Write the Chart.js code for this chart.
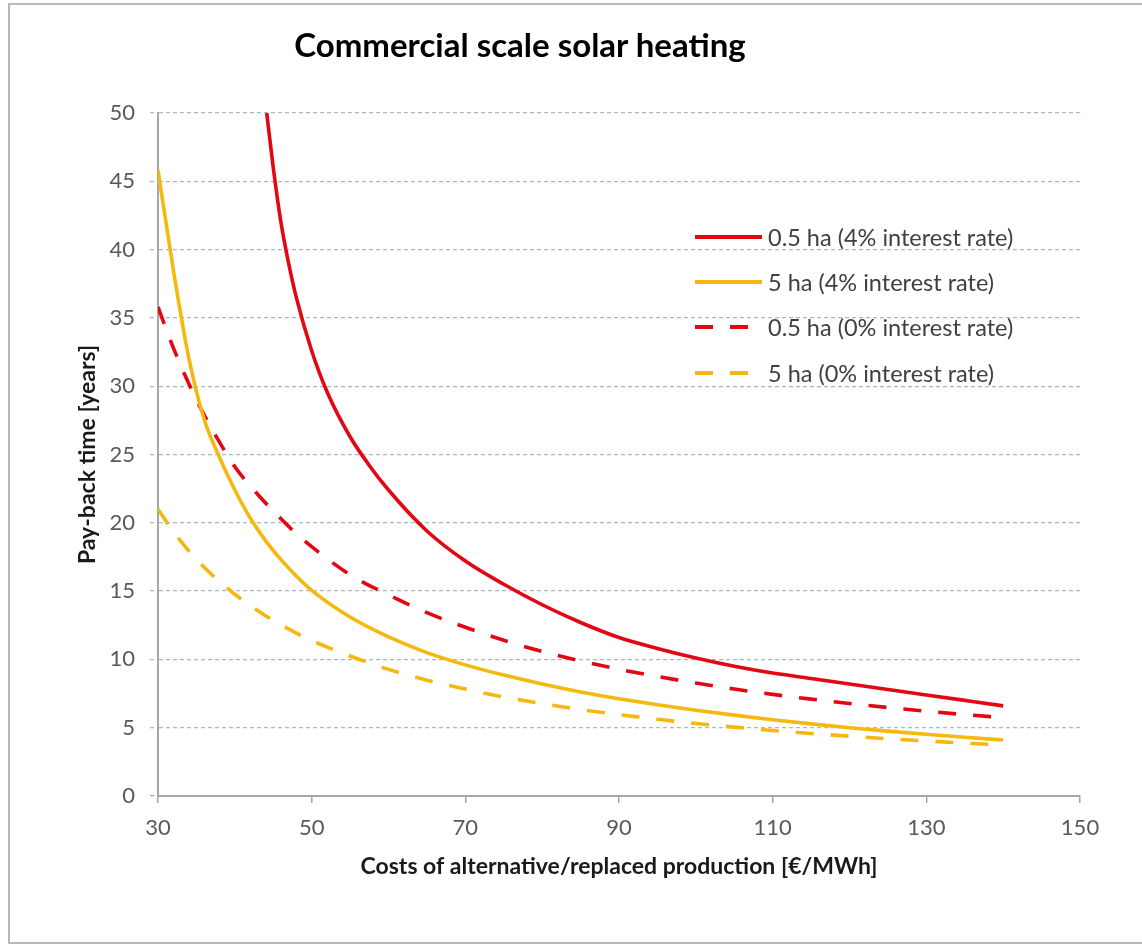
<!DOCTYPE html>
<html><head><meta charset="utf-8">
<script src="https://cdn.jsdelivr.net/npm/chart.js@4.4.1/dist/chart.umd.min.js"></script>
<style>
html,body{margin:0;padding:0;background:#fff;}
#wrap{position:relative;width:1142px;height:947px;overflow:hidden;font-family:Lato,sans-serif;}
#frame{position:absolute;left:8px;top:3px;width:1150px;height:941px;border:2px solid #b8b8b8;box-sizing:border-box;}
#title{position:absolute;left:0;width:1040px;top:24px;text-align:center;font-weight:bold;font-size:33px;line-height:40px;color:#000;}
.lg{position:absolute;left:695px;height:30px;display:flex;align-items:center;font-size:23.5px;color:#404040;white-space:nowrap;}
.lg svg{margin-right:6px;}
canvas{position:absolute;left:0;top:0;}
</style></head>
<body><div id="wrap"><div id="frame"></div><canvas id="c" width="1142" height="947"></canvas><div id="title"></div><div id="legend"></div></div>
<script>
// ---- data ----
const chartTitle = 'Commercial scale solar heating';
const xTitle = 'Costs of alternative/replaced production [€/MWh]';
const yTitle = 'Pay-back time [years]';
const seriesLabels = ['0.5 ha (4% interest rate)', '5 ha (4% interest rate)', '0.5 ha (0% interest rate)', '5 ha (0% interest rate)'];

const costRedSolid = [44.15,45,46,47,48,50,52,55,57.5,60,65,70,75,80,85,90,95,100,105,110,115,120,125,130,135,140];
const payback05ha4 = [50,46.0,42.0,39.0,36.5,32.6,29.6,26.3,24.2,22.4,19.4,17.2,15.5,14.0,12.7,11.6,10.8,10.1,9.5,9.0,8.6,8.2,7.8,7.4,7.0,6.6];

const cost = [30,32,34,36,38,40,42,44,46,48,50,55,60,65,70,75,80,85,90,95,100,105,110,115,120,125,130,135,140];
const payback5ha4 = [45.8,38.5,32.1,27.6,24.8,22.4,20.35,18.7,17.3,16.1,15.05,13.1,11.65,10.5,9.6,8.85,8.2,7.62,7.12,6.68,6.28,5.92,5.58,5.28,5.0,4.75,4.52,4.3,4.1];
const payback05ha0 = [35.8,32.8,30.2,27.9,25.9,24.1,22.7,21.45,20.3,19.2,18.25,16.2,14.72,13.42,12.35,11.4,10.58,9.88,9.28,8.75,8.27,7.83,7.44,7.09,6.77,6.48,6.21,5.96,5.74];
const payback5ha0 = [21.0,19.35,17.95,16.75,15.7,14.77,13.95,13.2,12.54,11.93,11.38,10.25,9.27,8.48,7.83,7.25,6.76,6.33,5.96,5.62,5.31,5.04,4.8,4.58,4.38,4.19,4.03,3.87,3.73];

const xTicks = {min:30, max:150, step:20};
const yTicks = {min:0, max:50, step:5};

// ---- styles ----
const RED = '#e30613';
const YEL = '#f5b80f';
const DASH = [18,17];
const toPts = (xs, ys) => xs.map((x,i) => ({x, y: ys[i]}));

document.getElementById('title').textContent = chartTitle;

const datasets = [
  {label: seriesLabels[0], data: toPts(costRedSolid, payback05ha4), borderColor: RED, borderDash: []},
  {label: seriesLabels[1], data: toPts(cost, payback5ha4), borderColor: YEL, borderDash: []},
  {label: seriesLabels[2], data: toPts(cost, payback05ha0), borderColor: RED, borderDash: DASH},
  {label: seriesLabels[3], data: toPts(cost, payback5ha0), borderColor: YEL, borderDash: DASH}
].map(d => Object.assign(d, {borderWidth: 3.6, pointRadius: 0, fill: false, cubicInterpolationMode: 'monotone', borderCapStyle: 'butt'}));

// HTML legend built from datasets
const legendTops = [237, 282, 327, 373];
const lg = document.getElementById('legend');
datasets.forEach((d, i) => {
  const row = document.createElement('div');
  row.className = 'lg';
  row.style.top = (legendTops[i] - 15) + 'px';
  const dash = d.borderDash.length ? `stroke-dasharray="${d.borderDash.join(' ')}"` : '';
  row.innerHTML = `<svg width="67" height="8"><line x1="0" y1="4" x2="67" y2="4" stroke="${d.borderColor}" stroke-width="4" ${dash}/></svg><span>${d.label}</span>`;
  lg.appendChild(row);
});

const GRID = '#a9b8cc';
const AXIS = '#a6a6a6';
const tickFont = {family: 'Lato', size: 22};
const titleFont = {family: 'Lato', size: 23, weight: 'bold'};

new Chart(document.getElementById('c'), {
  type: 'line',
  data: {datasets},
  options: {
    responsive: false,
    animation: false,
    layout: {padding: {left: 70, right: 62, top: 113, bottom: 40}},
    plugins: {legend: {display: false}, tooltip: {enabled: false}},
    scales: {
      x: {
        type: 'linear', min: xTicks.min, max: xTicks.max,
        ticks: {stepSize: xTicks.step, color: '#595959', font: tickFont, padding: 12, maxRotation: 0},
        grid: {drawOnChartArea: false, drawTicks: true, tickLength: 7, color: AXIS, lineWidth: 1.5},
        border: {color: AXIS, width: 2},
        title: {display: true, text: xTitle, color: '#1a1a1a', font: titleFont, padding: {top: 0, bottom: 27}},
        afterFit(s) { s.height = 111; }
      },
      y: {
        type: 'linear', min: yTicks.min, max: yTicks.max,
        ticks: {stepSize: yTicks.step, color: '#595959', font: tickFont, padding: 15},
        grid: {
          color: c => (c.tick && c.tick.value === 0) ? 'rgba(0,0,0,0)' : GRID,
          tickColor: c => (c.tick && c.tick.value === 0) ? AXIS : GRID,
          lineWidth: 1.3, tickLength: 8, tickBorderDash: [4,3]
        },
        border: {color: AXIS, width: 2, dash: [4,3]},
        title: {display: true, text: yTitle, color: '#1a1a1a', font: titleFont, padding: {top: 4, bottom: 0}},
        afterFit(s) { s.width = 88; }
      }
    }
  }
});
</script>
</body></html>
